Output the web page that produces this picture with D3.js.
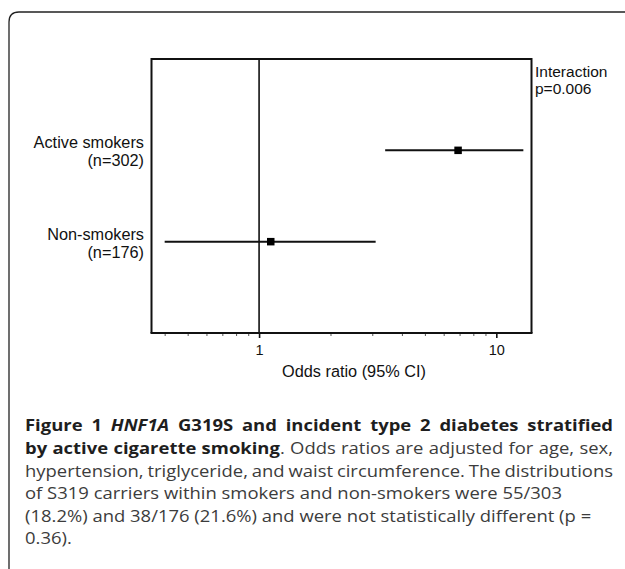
<!DOCTYPE html>
<html><head><meta charset="utf-8">
<script src="https://cdn.jsdelivr.net/npm/d3@7"></script>
<style>body{margin:0;background:#fff}</style>
</head><body>
<script>
// ---- data ----
const categories = ["Non-smokers", "Active smokers"];
const sampleSizes = ["(n=176)", "(n=302)"];
const oddsRatio = [1.12, 6.9];
const ciLower = [0.40, 3.40];
const ciUpper = [3.10, 13.0];
const majorTicks = [1, 10];
const minorTicks = [0.4, 0.5, 0.6, 0.7, 0.8, 0.9, 2, 3, 4, 5, 6, 7, 8, 9];
const xDomain = [0.352, 14.07];
const referenceOR = 1;
const xTitle = "Odds ratio (95% CI)";
const interactionText = ["Interaction", "p=0.006"];
const captionLines = [
  [{t:"Figure 1 ", b:1}, {t:"HNF1A", b:1, i:1}, {t:" G319S and incident type 2 diabetes stratified", b:1}],
  [{t:"by active cigarette smoking", b:1}, {t:". Odds ratios are adjusted for age, sex,"}],
  [{t:"hypertension, triglyceride, and waist circumference. The distributions"}],
  [{t:"of S319 carriers within smokers and non-smokers were 55/303"}],
  [{t:"(18.2%) and 38/176 (21.6%) and were not statistically different (p ="}],
  [{t:"0.36)."}]
];
const justifyLine = [true, true, true, false, false, false];

// ---- layout ----
const W = 625, H = 569;
const plot = {left: 151.5, right: 531.5, top: 59, bottom: 333};
const svg = d3.select("body").append("svg").attr("width", W).attr("height", H)
  .style("font-family", "'Liberation Sans', Arial, sans-serif");

// outer frame
svg.append("path").attr("d", "M9,569 L9,22 Q9,12 19,12 L625,12")
  .attr("fill", "none").attr("stroke", "#222").attr("stroke-width", 1.3);

const x = d3.scaleLog().domain(xDomain).range([plot.left, plot.right]);
const y = d3.scaleLinear().domain([0, 3]).range([plot.bottom, plot.top]);

const ink = "#111";
// box: left, top, right
svg.append("path")
  .attr("d", `M${plot.left},${plot.bottom} L${plot.left},${plot.top} L${plot.right},${plot.top} L${plot.right},${plot.bottom}`)
  .attr("fill", "none").attr("stroke", ink).attr("stroke-width", 2);

// reference line
svg.append("line").attr("x1", x(referenceOR)).attr("x2", x(referenceOR))
  .attr("y1", plot.top).attr("y2", plot.bottom)
  .attr("stroke", ink).attr("stroke-width", 1.6);

// axis
const axisG = svg.append("g").attr("transform", `translate(0,${plot.bottom})`);
axisG.append("g").call(d3.axisBottom(x).tickValues(minorTicks).tickSize(3).tickFormat(""))
  .call(g => g.select(".domain").remove())
  .selectAll("line").attr("stroke", "#555").attr("stroke-width", 1);
const maj = axisG.append("g").call(d3.axisBottom(x).tickValues(majorTicks).tickSize(5).tickSizeOuter(0)
  .tickFormat(d3.format("d")).tickPadding(7));
maj.select(".domain").attr("stroke", ink).attr("stroke-width", 2)
  .attr("d", `M${plot.left - 1},0H${plot.right + 1}`);
maj.selectAll("line").attr("stroke", ink).attr("stroke-width", 1.6);
maj.selectAll("text").attr("font-size", 14.5).attr("fill", "#111")
  .attr("font-family", "'Liberation Sans', Arial, sans-serif");

svg.append("text").attr("x", 354).attr("y", 377).attr("text-anchor", "middle")
  .attr("font-size", 16.3).attr("fill", "#111").text(xTitle);

// CI lines & points
const rows = categories.map((c, i) => ({c, n: sampleSizes[i], or: oddsRatio[i], lo: ciLower[i], hi: ciUpper[i], yi: i + 1}));
svg.selectAll(".ci").data(rows).join("line").attr("class", "ci")
  .attr("x1", d => x(d.lo)).attr("x2", d => x(d.hi))
  .attr("y1", d => y(d.yi)).attr("y2", d => y(d.yi))
  .attr("stroke", ink).attr("stroke-width", 2);
const sq = 7.5;
svg.selectAll(".pt").data(rows).join("rect").attr("class", "pt")
  .attr("x", d => x(d.or) - sq / 2).attr("y", d => y(d.yi) - sq / 2)
  .attr("width", sq).attr("height", sq).attr("fill", "#000");

// category labels
const lab = svg.selectAll(".lab").data(rows).join("text").attr("class", "lab")
  .attr("text-anchor", "end").attr("font-size", 16.3).attr("fill", "#111");
lab.append("tspan").attr("x", 144).attr("y", d => y(d.yi) - 2).text(d => d.c);
lab.append("tspan").attr("x", 144).attr("y", d => y(d.yi) + 16).text(d => d.n);

// interaction annotation
svg.append("g").selectAll("text").data(interactionText).join("text")
  .attr("font-size", 15.5).attr("fill", "#111")
  .attr("x", 535).attr("y", (d, i) => 77 + i * 16.5).text(d => d);

// caption
const capLeft = 25, capRight = 613, capTop = 431.5, capLH = 22.6, capFS = 16.5;
const capFont = "'Open Sans', 'Noto Sans', sans-serif";
const cap = svg.append("g").attr("font-family", capFont);
function makeLine(parts, i) {
  const t = cap.append("text").attr("x", 0).attr("y", capTop + i * capLH)
    .attr("font-size", capFS).attr("fill", "#3c3c3c");
  parts.forEach(p => {
    t.append("tspan").text(p.t)
      .attr("font-weight", p.b ? 700 : 400)
      .attr("font-style", p.i ? "italic" : "normal")
      .attr("fill", p.b ? "#1e1e1e" : "#3c3c3c");
  });
  return t;
}
const texts = captionLines.map((parts, i) => makeLine(parts, i));
// horizontal condensing derived from the unjustified 4th line
const r = (562 - capLeft) / texts[3].node().getComputedTextLength();
cap.attr("transform", `translate(${capLeft},0) scale(${r},1)`);
texts.forEach((t, i) => {
  if (!justifyLine[i]) return;
  const target = (capRight - capLeft) / r;
  const w = t.node().getComputedTextLength();
  const nSp = captionLines[i].map(p => p.t).join("").split(" ").length - 1;
  if (nSp > 0) t.attr("word-spacing", (target - w) / nSp);
});
</script>
</body></html>
